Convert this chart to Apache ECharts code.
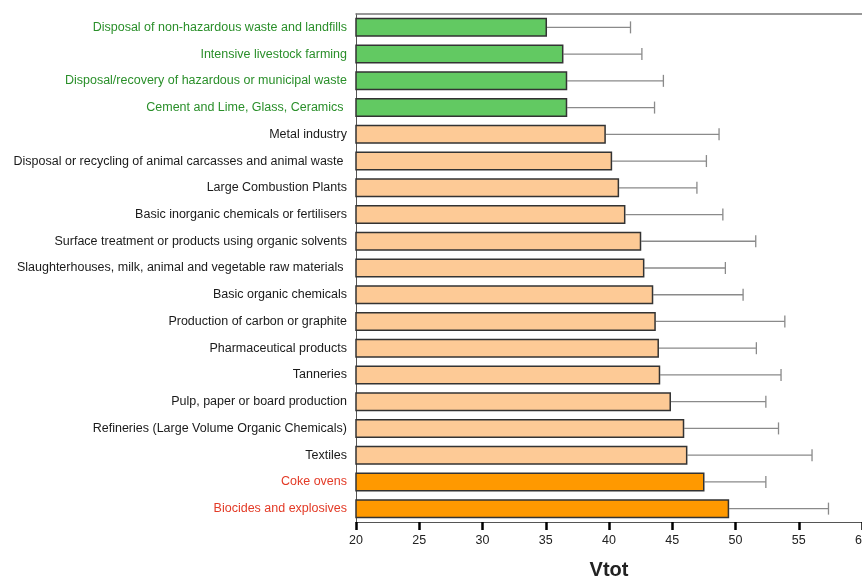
<!DOCTYPE html>
<html>
<head>
<meta charset="utf-8">
<script src="https://cdn.jsdelivr.net/npm/echarts@6/dist/echarts.min.js"></script>
<style>html,body{margin:0;padding:0;background:#fff;}#c{width:862px;height:578px;}</style>
</head>
<body>
<div id="c"></div>
<script>
const categories = [
  'Disposal of non-hazardous waste and landfills',
  'Intensive livestock farming',
  'Disposal/recovery of hazardous or municipal waste',
  'Cement and Lime, Glass, Ceramics ',
  'Metal industry',
  'Disposal or recycling of animal carcasses and animal waste ',
  'Large Combustion Plants',
  'Basic inorganic chemicals or fertilisers',
  'Surface treatment or products using organic solvents',
  'Slaughterhouses, milk, animal and vegetable raw materials ',
  'Basic organic chemicals',
  'Production of carbon or graphite',
  'Pharmaceutical products',
  'Tanneries',
  'Pulp, paper or board production',
  'Refineries (Large Volume Organic Chemicals)',
  'Textiles',
  'Coke ovens',
  'Biocides and explosives'
];
const values = [35.1, 36.4, 36.7, 36.7, 39.75, 40.25, 40.8, 41.3, 42.55, 42.8, 43.5, 43.7, 43.95, 44.05, 44.9, 45.95, 46.2, 47.55, 49.5];
const upperValues = [41.7, 42.6, 44.3, 43.6, 48.7, 47.7, 46.95, 49.0, 51.6, 49.2, 50.6, 53.9, 51.65, 53.6, 52.4, 53.4, 56.05, 52.4, 57.35];
const groups = ['g','g','g','g','m','m','m','m','m','m','m','m','m','m','m','m','m','r','r'];
const xTicks = [20, 25, 30, 35, 40, 45, 50, 55, 60];
const axisTitle = 'Vtot';

const barColors = { g: '#62c962', m: '#fdca96', r: '#ff9900' };
const textColors = { g: '#2a8f2a', m: '#1a1a1a', r: '#e33a26' };
const labelFont = { fontFamily: 'Liberation Sans', fontSize: 12.5 };

const xMin = xTicks[0], xMax = xTicks[xTicks.length - 1], xStep = xTicks[1] - xTicks[0];

const chart = echarts.init(document.getElementById('c'));
chart.setOption({
  animation: false,
  backgroundColor: '#fff',
  grid: { left: 356, right: 0, top: 14, bottom: 56, show: false,
          containLabel: false, outerBoundsMode: 'none' },
  xAxis: [{
    type: 'value',
    min: xMin, max: xMax, interval: xStep,
    name: axisTitle, nameLocation: 'middle', nameGap: 38,
    nameTextStyle: { fontFamily: 'Liberation Sans', fontWeight: 'bold', fontSize: 20, color: '#222' },
    axisLine: { show: true, lineStyle: { color: '#555', width: 1 } },
    axisTick: { show: true, length: 8, lineStyle: { color: '#000', width: 2.5 } },
    axisLabel: { color: '#222', fontFamily: 'Liberation Sans', fontSize: 12.5, margin: 12 },
    splitLine: { show: false }
  }, {
    type: 'value', position: 'top',
    min: xMin, max: xMax, interval: xStep,
    axisLine: { show: true, lineStyle: { color: '#777', width: 1.5 } },
    axisTick: { show: false }, axisLabel: { show: false }, splitLine: { show: false }
  }],
  yAxis: {
    type: 'category', inverse: true, data: categories,
    axisLine: { show: true, lineStyle: { color: '#555', width: 1 } },
    axisTick: { show: false },
    axisLabel: {
      margin: 9, ...labelFont,
      formatter: (v, i) => '{' + groups[i] + '|' + v + '}',
      rich: {
        g: { color: textColors.g, ...labelFont },
        m: { color: textColors.m, ...labelFont },
        r: { color: textColors.r, ...labelFont }
      }
    },
    splitLine: { show: false }
  },
  series: [
    {
      type: 'bar',
      barWidth: 19,
      data: values.map((v, i) => ({ value: v, itemStyle: { color: barColors[groups[i]] } })),
      itemStyle: { borderColor: '#333', borderWidth: 1.5 },
      z: 3
    },
    {
      type: 'custom',
      z: 2,
      data: values.map((v, i) => [v, i, upperValues[i]]),
      encode: { x: [0, 2], y: 1 },
      renderItem: (params, api) => {
        const start = api.coord([api.value(0), api.value(1)]);
        const end = api.coord([api.value(2), api.value(1)]);
        const style = { stroke: '#8a8a8a', lineWidth: 1.3, fill: null };
        return {
          type: 'group',
          children: [
            { type: 'line', shape: { x1: start[0], y1: start[1], x2: end[0], y2: end[1] }, style },
            { type: 'line', shape: { x1: end[0], y1: end[1] - 6, x2: end[0], y2: end[1] + 6 }, style }
          ]
        };
      }
    }
  ]
});
</script>
</body>
</html>
